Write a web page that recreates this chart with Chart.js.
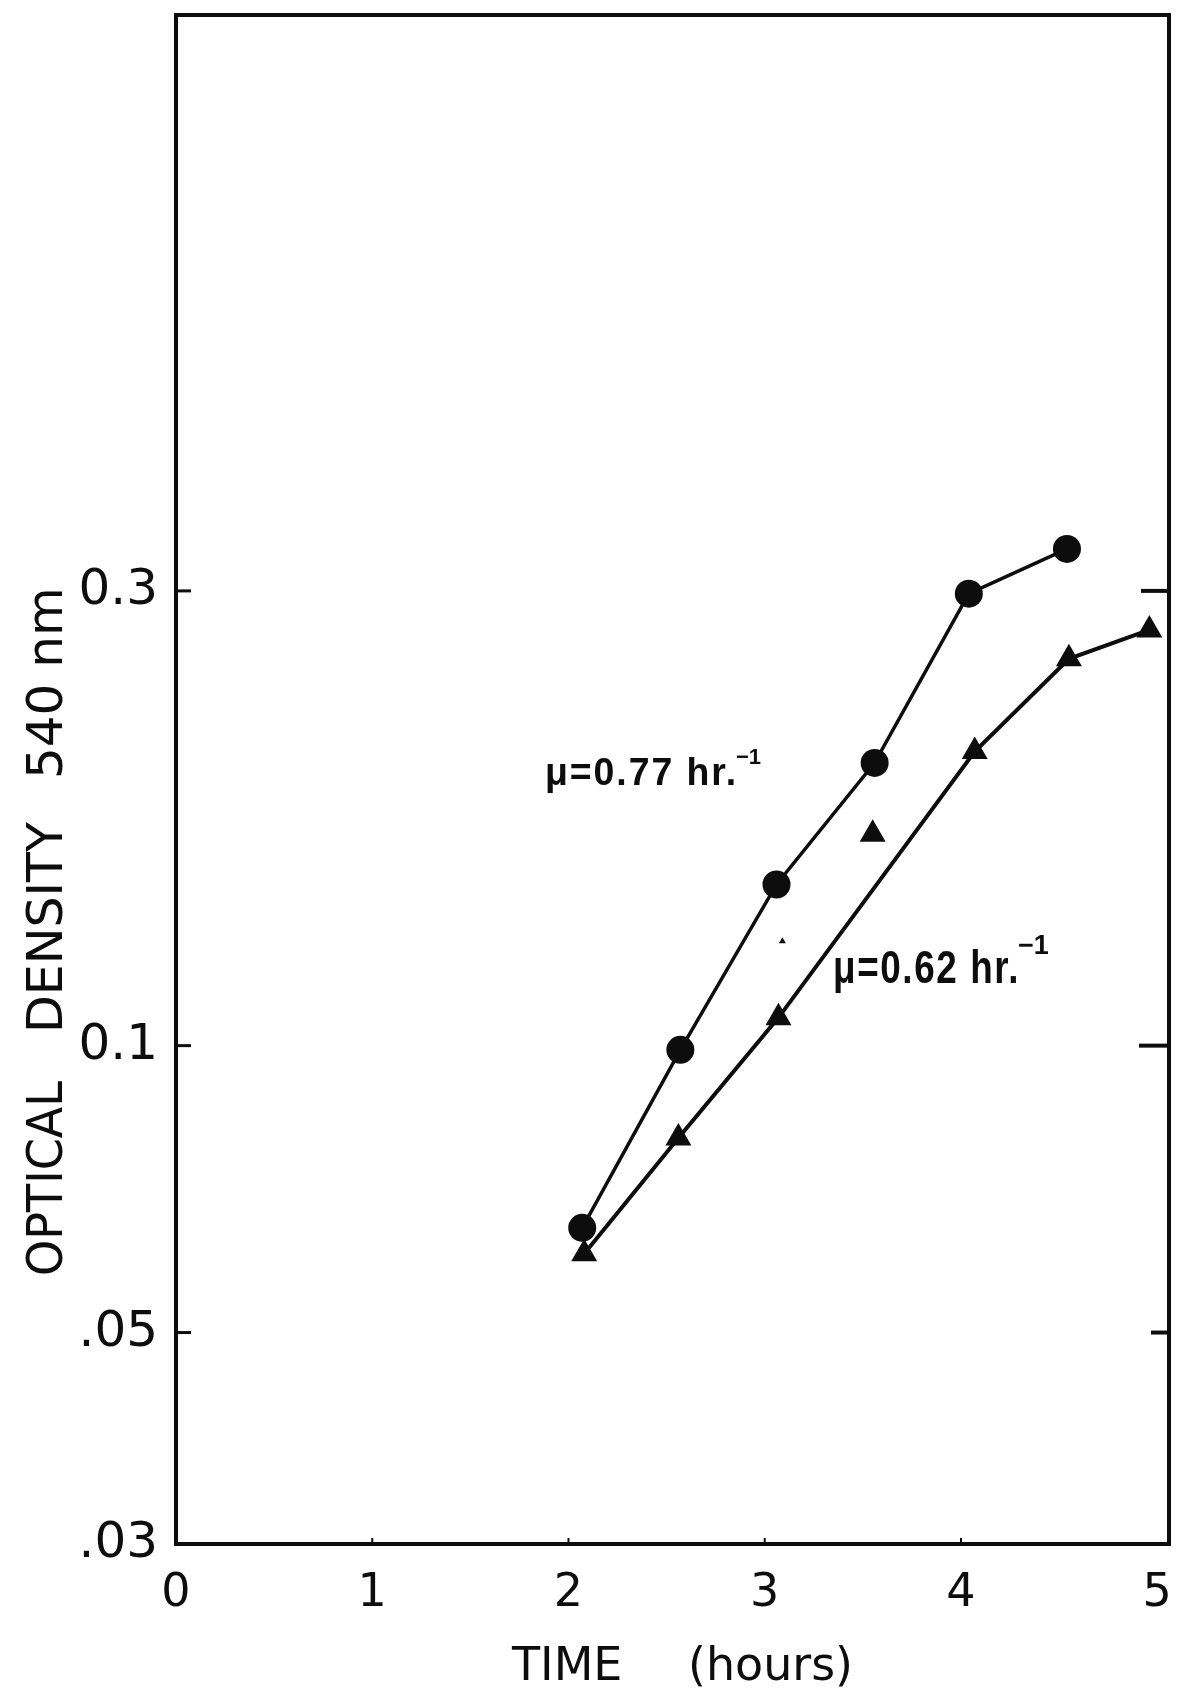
<!DOCTYPE html>
<html>
<head>
<meta charset="utf-8">
<script src="https://cdn.jsdelivr.net/npm/chart.js@4.4.1/dist/chart.umd.min.js"></script>
<style>
  html, body { margin: 0; padding: 0; background: #fff; }
  #wrap { width: 1184px; height: 1695px; }
</style>
</head>
<body>
<div id="wrap"><canvas id="chart" width="1184" height="1695"></canvas></div>
<script>
// Optical density (540 nm) vs time
const fastTime = [2.07, 2.57, 3.06, 3.56, 4.04, 4.54];
const fastOD = [0.0644, 0.099, 0.1476, 0.198, 0.298, 0.332];

const slowTime = [2.08, 2.56, 3.07, 4.07, 4.55, 4.96];
const slowOD = [0.0605, 0.080, 0.107, 0.2035, 0.2546, 0.273];

// triangle off the fitted line, and the faint small one
const slowOffTime = [3.55];
const slowOffOD = [0.1666];
const faintTime = [3.09];
const faintOD = [0.1287];

const yTicks = [0.03, 0.05, 0.1, 0.3];
const yTickLabels = ['.03', '.05', '0.1', '0.3'];
const xTicks = [0, 1, 2, 3, 4, 5];

const toPoints = (xs, ys) => xs.map((x, i) => ({ x: x, y: ys[i] }));

const INK = '#0d0d0d';
const FONT = '"DejaVu Sans", "Noto Sans", sans-serif';
const BOLD_FONT = '"Liberation Sans", Arial, sans-serif';

// rate label with a "-1" exponent placed right after the text
function rateLabel(ctx, text, x, y, size, maxW, supSize, supRise) {
    ctx.font = 'bold ' + size + 'px ' + BOLD_FONT;
    ctx.letterSpacing = '2px';
    const w = Math.min(ctx.measureText(text).width, maxW);
    ctx.fillText(text, x, y, maxW);
    ctx.letterSpacing = '0px';
    ctx.font = 'bold ' + supSize + 'px ' + BOLD_FONT;
    ctx.fillText('\u2212\u0031', x + w - 2, y - supRise);
}

// frame, inward tick marks and the hand-lettered labels
const paperPlugin = {
    id: 'paper',
    afterDraw(chart) {
        const { ctx, chartArea: a, scales } = chart;
        const y = scales.y;
        const x = scales.x;
        ctx.save();
        ctx.strokeStyle = INK;
        ctx.fillStyle = INK;
        ctx.lineWidth = 4;
        ctx.strokeRect(a.left, a.top, a.right - a.left, a.bottom - a.top);

        // right side ticks
        ctx.lineWidth = 4;
        [[0.3, 28], [0.1, 30], [0.05, 18]].forEach(([v, len]) => {
            const py = y.getPixelForValue(v);
            ctx.beginPath();
            ctx.moveTo(a.right, py);
            ctx.lineTo(a.right - len, py);
            ctx.stroke();
        });
        // left side ticks
        ctx.lineWidth = 3;
        [0.05, 0.1, 0.3].forEach(v => {
            const py = y.getPixelForValue(v);
            ctx.beginPath();
            ctx.moveTo(a.left, py);
            ctx.lineTo(a.left + 15, py);
            ctx.stroke();
        });
        // bottom ticks
        ctx.lineWidth = 2;
        xTicks.slice(1, 5).forEach(v => {
            const px = x.getPixelForValue(v);
            ctx.beginPath();
            ctx.moveTo(px, a.bottom);
            ctx.lineTo(px, a.bottom - 6);
            ctx.stroke();
        });

        // y title, rotated
        ctx.save();
        ctx.translate(49, 0);
        ctx.rotate(-Math.PI / 2);
        ctx.font = '50px ' + FONT;
        ctx.textBaseline = 'middle';
        ctx.textAlign = 'left';
        [['OPTICAL', 1276, 195], ['DENSITY', 1033, 211], ['540 nm', 779, 255]].forEach(([t, start, w]) => {
            ctx.fillText(t, -start, 0, w);
        });
        ctx.restore();

        // x title
        ctx.font = '46px ' + FONT;
        ctx.textBaseline = 'alphabetic';
        ctx.textAlign = 'left';
        ctx.fillText('TIME', 512, 1680, 125);
        ctx.fillText('(hours)', 688, 1680, 165);

        // growth rate labels
        rateLabel(ctx, '\u03bc=0.77 hr.', 545, 785, 39, 193, 22, 21);
        rateLabel(ctx, '\u03bc=0.62 hr.', 833, 983, 46, 187, 27, 29);
        ctx.restore();
    }
};

new Chart(document.getElementById('chart'), {
    type: 'scatter',
    data: {
        datasets: [
            {
                label: 'circles',
                data: toPoints(fastTime, fastOD),
                showLine: true,
                borderColor: INK,
                backgroundColor: INK,
                borderWidth: 3.5,
                pointStyle: 'circle',
                pointRadius: 14,
                pointBorderWidth: 0,
            },
            {
                label: 'triangles',
                data: toPoints(slowTime, slowOD),
                showLine: true,
                borderColor: INK,
                backgroundColor: INK,
                borderWidth: 4,
                pointStyle: 'triangle',
                pointRadius: 15,
                pointBorderWidth: 0,
            },
            {
                label: 'triangle off line',
                data: toPoints(slowOffTime, slowOffOD),
                backgroundColor: INK,
                pointStyle: 'triangle',
                pointRadius: 15,
                pointBorderWidth: 0,
            },
            {
                label: 'faint',
                data: toPoints(faintTime, faintOD),
                backgroundColor: INK,
                pointStyle: 'triangle',
                pointRadius: 4,
                pointBorderWidth: 0,
            },
        ],
    },
    options: {
        responsive: false,
        animation: false,
        layout: {
            padding: { top: 14, right: 11, left: 0, bottom: 0 },
        },
        plugins: {
            legend: { display: false },
            tooltip: { enabled: false },
        },
        scales: {
            x: {
                type: 'linear',
                min: 0,
                max: 5.06,
                afterBuildTicks: s => { s.ticks = xTicks.map(v => ({ value: v })); },
                afterFit: s => {
                    s.height = 151;
                    s.paddingLeft = 0;
                    s.paddingRight = 0;
                },
                grid: { display: false },
                border: { display: false },
                ticks: {
                    color: INK,
                    padding: 14,
                    font: { family: FONT, size: 46 },
                    maxRotation: 0,
                },
            },
            y: {
                type: 'logarithmic',
                min: 0.03,
                max: 1.206,
                afterBuildTicks: s => { s.ticks = yTicks.map(v => ({ value: v })); },
                afterFit: s => {
                    s.width = 176;
                    s.paddingTop = 0;
                    s.paddingBottom = 0;
                },
                grid: { display: false },
                border: { display: false },
                ticks: {
                    color: INK,
                    padding: 10,
                    font: { family: FONT, size: 50 },
                    callback: v => yTickLabels[yTicks.indexOf(v)] ?? '',
                },
            },
        },
    },
    plugins: [paperPlugin],
});
</script>
</body>
</html>
